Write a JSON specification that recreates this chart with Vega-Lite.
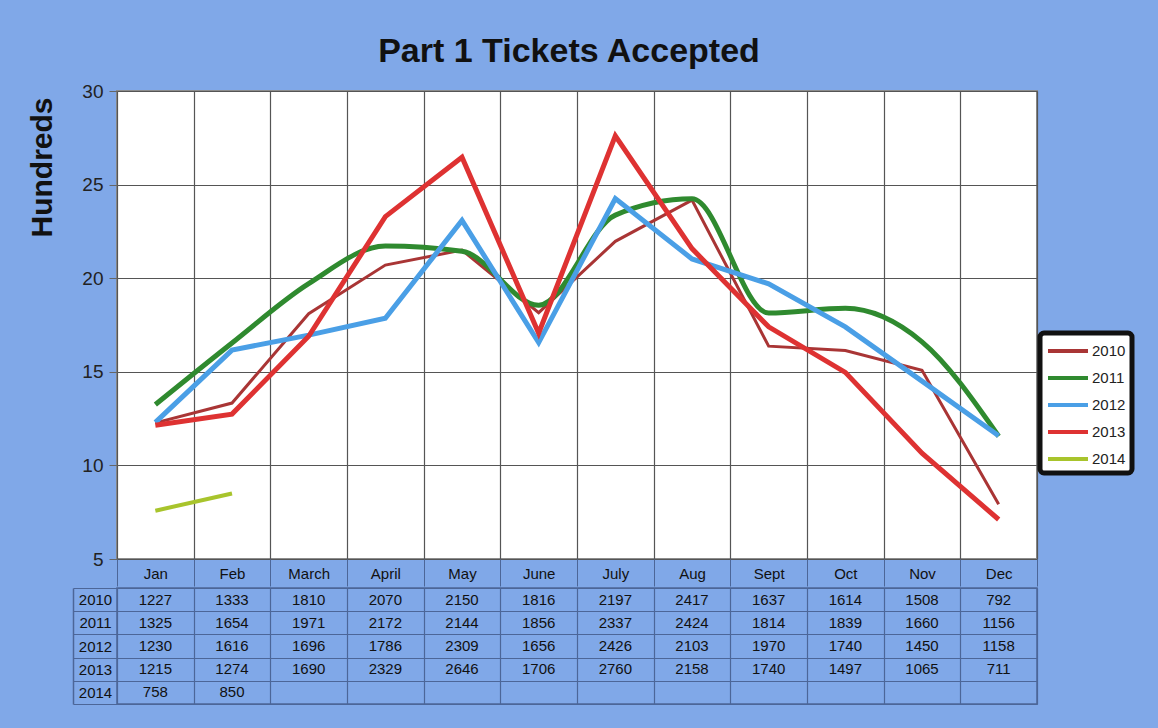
{
  "$schema": "https://vega.github.io/schema/vega-lite/v6.json",
  "autosize": {"type": "none"},
  "padding": {"left": 117, "top": 91, "right": 1041, "bottom": 637},
  "background": "#80a8e8",
  "config": {
    "font": "Liberation Sans",
    "view": {"stroke": "#8c8c8c", "strokeWidth": 2, "fill": "white"},
    "axis": {"labelFont": "Liberation Sans", "titleFont": "Liberation Sans"},
    "legend": {"strokeWidth": 5}
  },
  "datasets": {
    "d": [
      {"month": "Jan", "year": 2010, "value": 1227},
      {"month": "Feb", "year": 2010, "value": 1333},
      {"month": "March", "year": 2010, "value": 1810},
      {"month": "April", "year": 2010, "value": 2070},
      {"month": "May", "year": 2010, "value": 2150},
      {"month": "June", "year": 2010, "value": 1816},
      {"month": "July", "year": 2010, "value": 2197},
      {"month": "Aug", "year": 2010, "value": 2417},
      {"month": "Sept", "year": 2010, "value": 1637},
      {"month": "Oct", "year": 2010, "value": 1614},
      {"month": "Nov", "year": 2010, "value": 1508},
      {"month": "Dec", "year": 2010, "value": 792},
      {"month": "Jan", "year": 2011, "value": 1325},
      {"month": "Feb", "year": 2011, "value": 1654},
      {"month": "March", "year": 2011, "value": 1971},
      {"month": "April", "year": 2011, "value": 2172},
      {"month": "May", "year": 2011, "value": 2144},
      {"month": "June", "year": 2011, "value": 1856},
      {"month": "July", "year": 2011, "value": 2337},
      {"month": "Aug", "year": 2011, "value": 2424},
      {"month": "Sept", "year": 2011, "value": 1814},
      {"month": "Oct", "year": 2011, "value": 1839},
      {"month": "Nov", "year": 2011, "value": 1660},
      {"month": "Dec", "year": 2011, "value": 1156},
      {"month": "Jan", "year": 2012, "value": 1230},
      {"month": "Feb", "year": 2012, "value": 1616},
      {"month": "March", "year": 2012, "value": 1696},
      {"month": "April", "year": 2012, "value": 1786},
      {"month": "May", "year": 2012, "value": 2309},
      {"month": "June", "year": 2012, "value": 1656},
      {"month": "July", "year": 2012, "value": 2426},
      {"month": "Aug", "year": 2012, "value": 2103},
      {"month": "Sept", "year": 2012, "value": 1970},
      {"month": "Oct", "year": 2012, "value": 1740},
      {"month": "Nov", "year": 2012, "value": 1450},
      {"month": "Dec", "year": 2012, "value": 1158},
      {"month": "Jan", "year": 2013, "value": 1215},
      {"month": "Feb", "year": 2013, "value": 1274},
      {"month": "March", "year": 2013, "value": 1690},
      {"month": "April", "year": 2013, "value": 2329},
      {"month": "May", "year": 2013, "value": 2646},
      {"month": "June", "year": 2013, "value": 1706},
      {"month": "July", "year": 2013, "value": 2760},
      {"month": "Aug", "year": 2013, "value": 2158},
      {"month": "Sept", "year": 2013, "value": 1740},
      {"month": "Oct", "year": 2013, "value": 1497},
      {"month": "Nov", "year": 2013, "value": 1065},
      {"month": "Dec", "year": 2013, "value": 711},
      {"month": "Jan", "year": 2014, "value": 758},
      {"month": "Feb", "year": 2014, "value": 850}
    ]
  },
  "spacing": 29,
  "bounds": "flush",
  "vconcat": [
    {
      "width": 920,
      "height": 468,
      "title": {"text": "Part 1 Tickets Accepted", "fontSize": 34, "fontWeight": "bold", "color": "#111", "baseline": "alphabetic", "offset": -14, "dx": -8, "anchor": "middle"},
      "data": {"name": "d"},
      "encoding": {
        "x": {
          "field": "month", "type": "nominal", "sort": null,
          "scale": {"type": "band", "domain": ["Jan", "Feb", "March", "April", "May", "June", "July", "Aug", "Sept", "Oct", "Nov", "Dec"], "paddingInner": 0, "paddingOuter": 0},
          "axis": {"title": null, "orient": "bottom", "tickBand": "extent", "grid": true, "gridColor": "#555", "gridWidth": 1.2, "ticks": true, "tickSize": 27, "tickColor": "#4c6698", "tickWidth": 1, "domain": false, "labelPadding": -13, "labelBaseline": "middle", "labelFontSize": 15, "labelColor": "#111", "labelAngle": 0}
        },
        "y": {
          "field": "value", "type": "quantitative",
          "scale": {"domain": [500, 3000], "nice": false, "zero": false},
          "axis": {"values": [500, 1000, 1500, 2000, 2500, 3000], "labelExpr": "format(datum.value / 100, 'd')", "grid": true, "gridColor": "#555", "gridWidth": 1.2, "tickSize": 8, "tickColor": "#666", "domain": false, "labelPadding": 6, "labelFontSize": 19, "labelColor": "#222", "title": "Hundreds", "titleFontSize": 30, "titleFontWeight": "bold", "titleColor": "#111", "titleAngle": 270, "titleX": -66, "titleY": 76, "titleAlign": "center", "titleBaseline": "alphabetic"}
        },
        "color": {
          "field": "year", "type": "nominal",
          "scale": {"domain": [2010, 2011, 2012, 2013, 2014], "range": ["#a93535", "#2f8a2f", "#4a9fe6", "#de3232", "#a8c42c"]},
          "legend": {"title": null, "orient": "none", "legendX": 923, "legendY": 242, "symbolType": "M-1,0H3", "symbolSize": 400, "symbolStrokeWidth": 4, "labelFontSize": 15, "labelColor": "#222", "labelOffset": 22, "fillColor": "white", "strokeColor": "#111", "cornerRadius": 4, "padding": 6, "rowPadding": 7}
        }
      },
      "layer": [
        {"transform": [{"filter": "datum.year == 2010"}], "mark": {"type": "line", "strokeWidth": 3}},
        {"transform": [{"filter": "datum.year == 2011"}], "mark": {"type": "line", "strokeWidth": 5, "interpolate": "monotone"}},
        {"transform": [{"filter": "datum.year == 2012 || datum.year == 2013"}], "mark": {"type": "line", "strokeWidth": 5}},
        {"transform": [{"filter": "datum.year == 2014"}], "mark": {"type": "line", "strokeWidth": 4}}
      ]
    },
    {
      "width": 920,
      "height": 116,
      "view": {"stroke": "#4c6698", "strokeWidth": 1.5, "fill": null},
      "data": {"name": "d"},
      "mark": {"type": "text", "fontSize": 15, "color": "#111", "font": "Liberation Sans"},
      "encoding": {
        "x": {
          "field": "month", "type": "nominal", "sort": null,
          "scale": {"type": "band", "domain": ["Jan", "Feb", "March", "April", "May", "June", "July", "Aug", "Sept", "Oct", "Nov", "Dec"], "paddingInner": 0, "paddingOuter": 0},
          "axis": {"title": null, "labels": false, "ticks": false, "domain": false, "grid": true, "tickBand": "extent", "gridColor": "#4c6698", "gridWidth": 1.2}
        },
        "y": {
          "field": "year", "type": "ordinal",
          "scale": {"type": "band", "domain": [2010, 2011, 2012, 2013, 2014], "paddingInner": 0, "paddingOuter": 0},
          "axis": {"title": null, "orient": "left", "offset": 44, "tickSize": -44, "tickBand": "extent", "tickColor": "#4c6698", "tickWidth": 1.2, "grid": true, "gridColor": "#4c6698", "gridWidth": 1.2, "domain": true, "domainColor": "#4c6698", "domainWidth": 1.5, "labelPadding": 22, "labelAlign": "center", "labelBaseline": "middle", "labelFontSize": 15, "labelColor": "#111"}
        },
        "text": {"field": "value", "type": "quantitative"}
      }
    }
  ]
}
